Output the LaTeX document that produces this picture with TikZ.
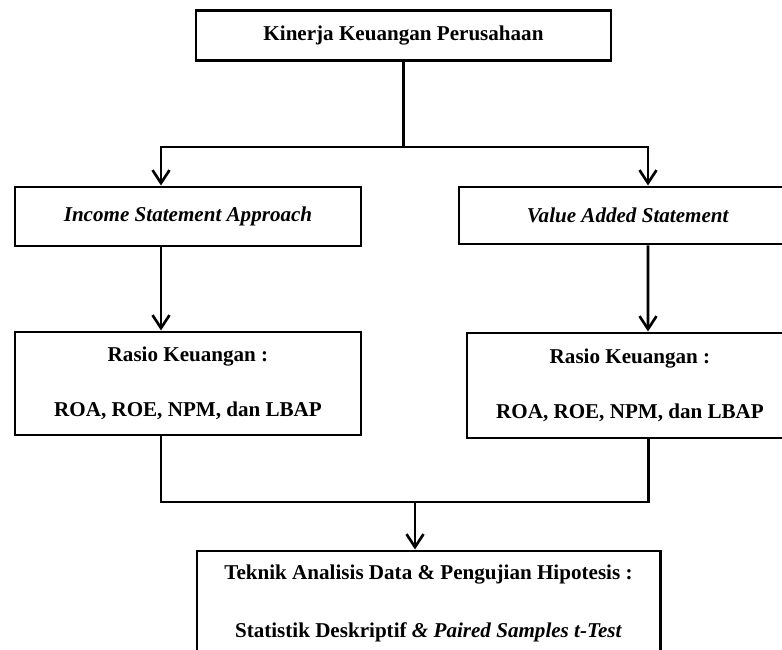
\documentclass[tikz,border=0pt]{standalone}
\usepackage{fontspec}
\setmainfont{Liberation Serif}
\usetikzlibrary{arrows.meta}

\begin{document}
\begin{tikzpicture}[
    box/.style={rectangle, draw, line width=1.7pt, align=center, font=\fontsize{12}{14.5}\selectfont\bfseries},
    line/.style={line width=1.7pt},
    arrow/.style={line width=1.7pt, -{Straight Barb[length=0.26cm, width=0.34cm, line width=1.5pt]}}
]
    \useasboundingbox (0,0) rectangle (15.64,-13);

    % Top row
    \node[box, minimum width=8.3cm, minimum height=1cm] (kinerja) at (8.07,-0.72) {Kinerja Keuangan Perusahaan};

    % Approach row
    \node[box, minimum width=6.92cm, minimum height=1.18cm] (income) at (3.76,-4.33) {\textit{Income Statement Approach}};
    \node[box, minimum width=6.76cm, minimum height=1.14cm] (value) at (12.56,-4.31) {\textit{Value Added Statement}};

    % Ratio row
    \node[box, minimum width=6.92cm, minimum height=2.06cm] (rasioL) at (3.76,-7.67) {Rasio Keuangan :\\[0.6cm]ROA, ROE, NPM, dan LBAP};
    \node[box, minimum width=6.52cm, minimum height=2.1cm] (rasioR) at (12.6,-7.71) {Rasio Keuangan :\\[0.6cm]ROA, ROE, NPM, dan LBAP};

    % Bottom row
    \node[box, minimum width=9.26cm, minimum height=2.1cm] (teknik) at (8.57,-12.07) {Teknik Analisis Data \& Pengujian Hipotesis :\\[0.64cm]Statistik Deskriptif \textit{\& Paired Samples t-Test}};

    \coordinate (fork) at (8.07,-2.94);
    \coordinate (joint) at (8.3,-10.04);

    \draw[line] (kinerja) -- (fork);
    \draw[arrow] (fork) -| ([xshift=-0.54cm]income.north);
    \draw[arrow] (fork) -| ([xshift=0.4cm]value.north);
    \draw[arrow] ([xshift=-0.54cm]income.south) -- ([xshift=-0.54cm]rasioL.north);
    \draw[arrow] ([xshift=0.4cm]value.south) -- ([xshift=0.36cm]rasioR.north);
    \draw[line] ([xshift=-0.54cm]rasioL.south) |- (joint);
    \draw[line] ([xshift=0.36cm]rasioR.south) |- (joint);
    \draw[arrow] (joint) -- (joint |- teknik.north);
\end{tikzpicture}
\end{document}
